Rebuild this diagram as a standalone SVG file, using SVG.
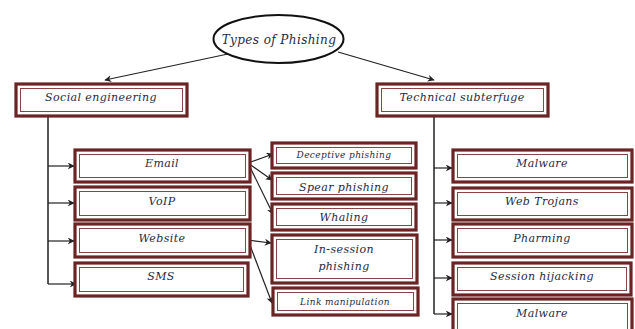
<svg xmlns="http://www.w3.org/2000/svg" width="635" height="329" viewBox="0 0 635 329">
<style>
.o{fill:#fff;stroke:#6b2424;stroke-width:3.2}
.i{fill:none;stroke:#8a4444;stroke-width:1}
.t{font-family:"DejaVu Serif","Liberation Serif",serif;font-style:italic;fill:#1e2a44;text-anchor:middle;dominant-baseline:central;font-size:11px;letter-spacing:0.4px}
.s{font-size:9px}
.c{fill:none;stroke:#222;stroke-width:1.2;marker-end:url(#a)}
.l{fill:none;stroke:#111;stroke-width:1.4}
</style>
<defs>
<marker id="a" viewBox="0 0 10 10" refX="9" refY="5" markerWidth="7" markerHeight="7" markerUnits="userSpaceOnUse" orient="auto">
<path d="M0,0 L10,5 L0,10 L3,5 Z" fill="#222"/>
</marker>
</defs>
<rect width="635" height="329" fill="#fff"/>
<g id="connectors">
<line class="c" x1="228" y1="54" x2="105" y2="80"/>
<line class="c" x1="338" y1="52" x2="434" y2="80"/>
<polyline class="l" points="48,117 48,284"/>
<line class="c" x1="48" y1="166" x2="74" y2="166"/>
<line class="c" x1="48" y1="203" x2="74" y2="203"/>
<line class="c" x1="48" y1="241" x2="74" y2="241"/>
<line class="c" x1="48" y1="284" x2="76" y2="284"/>
<polyline class="l" points="434,117 434,314"/>
<line class="c" x1="434" y1="168" x2="452" y2="168"/>
<line class="c" x1="434" y1="203" x2="452" y2="203"/>
<line class="c" x1="434" y1="240" x2="452" y2="240"/>
<line class="c" x1="434" y1="278" x2="452" y2="278"/>
<line class="c" x1="434" y1="314" x2="452" y2="314"/>
<line class="c" x1="248" y1="163" x2="273" y2="154"/>
<line class="c" x1="248" y1="163" x2="272" y2="180"/>
<line class="c" x1="248" y1="163" x2="273" y2="214"/>
<line class="c" x1="248" y1="240" x2="271" y2="243"/>
<line class="c" x1="248" y1="240" x2="272" y2="303"/>
</g>
<g id="root">
<ellipse cx="278.5" cy="39" rx="65" ry="24" fill="#fff" stroke="#111" stroke-width="2"/>
<text class="t" x="279" y="40" style="font-size:12px">Types of Phishing</text>
</g>
<g id="social">
<rect class="o" x="16" y="84" width="171" height="32"/><rect class="i" x="20.5" y="88.5" width="162" height="23"/>
<text class="t" x="101" y="97">Social engineering</text>
</g>
<g id="technical">
<rect class="o" x="377" y="84" width="171" height="32"/><rect class="i" x="381.5" y="88.5" width="162" height="23"/>
<text class="t" x="462" y="97">Technical subterfuge</text>
</g>
<g id="email">
<rect class="o" x="75" y="150" width="175" height="32"/><rect class="i" x="79.5" y="154.5" width="166" height="23"/>
<text class="t" x="162" y="163">Email</text>
</g>
<g id="voip">
<rect class="o" x="75" y="187" width="175" height="33"/><rect class="i" x="79.5" y="191.5" width="166" height="24"/>
<text class="t" x="162" y="201">VoIP</text>
</g>
<g id="website">
<rect class="o" x="75" y="224" width="175" height="33"/><rect class="i" x="79.5" y="228.5" width="166" height="24"/>
<text class="t" x="162" y="238">Website</text>
</g>
<g id="sms">
<rect class="o" x="75" y="263" width="173" height="33"/><rect class="i" x="79.5" y="267.5" width="164" height="24"/>
<text class="t" x="161" y="276">SMS</text>
</g>
<g id="deceptive">
<rect class="o" x="272" y="143" width="144" height="25"/><rect class="i" x="276.5" y="147.5" width="135" height="16"/>
<text class="t s" x="344" y="155">Deceptive phishing</text>
</g>
<g id="spear">
<rect class="o" x="272" y="173" width="144" height="26"/><rect class="i" x="276.5" y="177.5" width="135" height="17"/>
<text class="t" x="344" y="187">Spear phishing</text>
</g>
<g id="whaling">
<rect class="o" x="272" y="204" width="144" height="26"/><rect class="i" x="276.5" y="208.5" width="135" height="17"/>
<text class="t" x="344" y="217">Whaling</text>
</g>
<g id="insession">
<rect class="o" x="272" y="235" width="145" height="48"/><rect class="i" x="276.5" y="239.5" width="136" height="39"/>
<text class="t" x="344" y="249">In-session</text>
<text class="t" x="344" y="266">phishing</text>
</g>
<g id="link">
<rect class="o" x="273" y="288" width="145" height="27"/><rect class="i" x="277.5" y="292.5" width="136" height="18"/>
<text class="t s" x="345" y="302">Link manipulation</text>
</g>
<g id="malware1">
<rect class="o" x="453" y="150" width="179" height="32"/><rect class="i" x="457.5" y="154.5" width="170" height="23"/>
<text class="t" x="542" y="163">Malware</text>
</g>
<g id="webtrojans">
<rect class="o" x="453" y="188" width="179" height="32"/><rect class="i" x="457.5" y="192.5" width="170" height="23"/>
<text class="t" x="542" y="201">Web Trojans</text>
</g>
<g id="pharming">
<rect class="o" x="453" y="224" width="179" height="33"/><rect class="i" x="457.5" y="228.5" width="170" height="24"/>
<text class="t" x="542" y="238">Pharming</text>
</g>
<g id="session">
<rect class="o" x="453" y="263" width="178" height="32"/><rect class="i" x="457.5" y="267.5" width="169" height="23"/>
<text class="t" x="542" y="276">Session hijacking</text>
</g>
<g id="malware2">
<rect class="o" x="453" y="299" width="179" height="40"/><rect class="i" x="457.5" y="303.5" width="170" height="31"/>
<text class="t" x="542" y="313">Malware</text>
</g>
</svg>
